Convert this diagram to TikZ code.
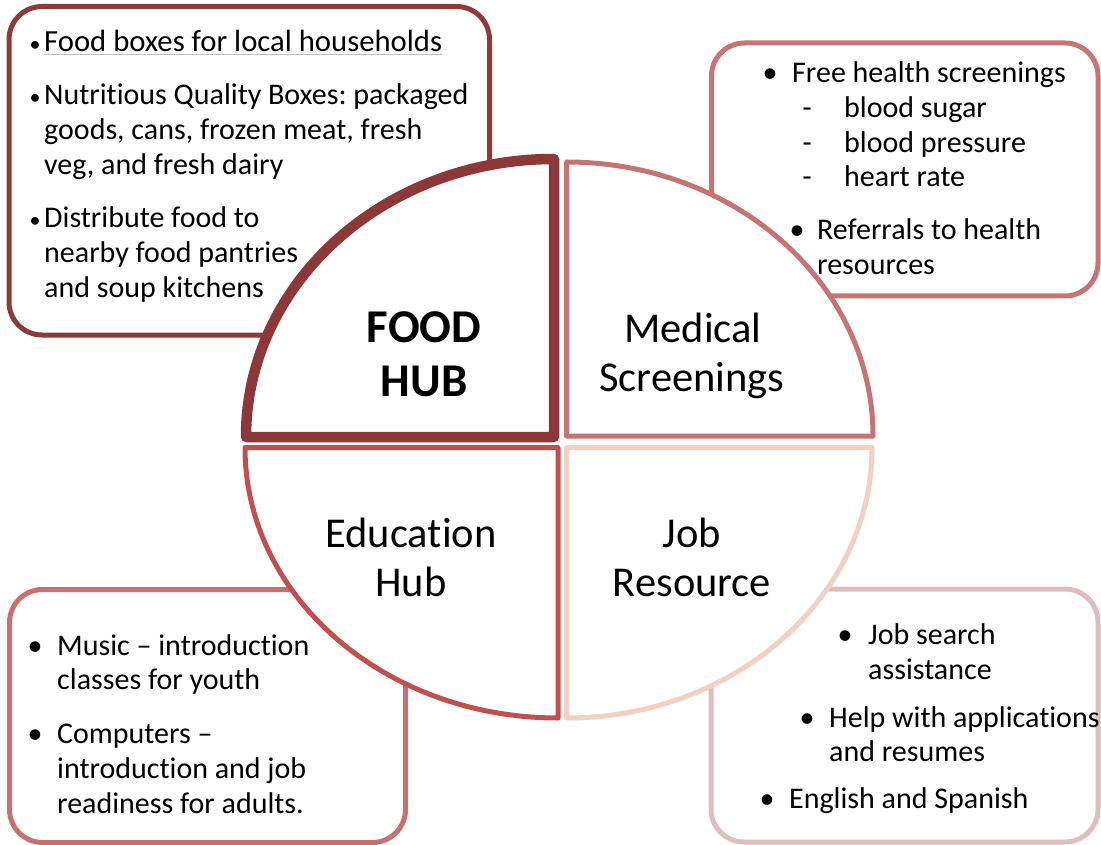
\documentclass[tikz,border=0pt]{standalone}
\usepackage{fontspec}
\setmainfont{Carlito}[Ligatures={NoCommon}]
\definecolor{foodc}{HTML}{8C3838}
\definecolor{medc}{HTML}{C67473}
\definecolor{educ}{HTML}{C0504D}
\definecolor{jobc}{HTML}{F2D0C4}
\definecolor{boxtl}{HTML}{8C3A3A}
\definecolor{boxtr}{HTML}{C87472}
\definecolor{boxbl}{HTML}{C87070}
\definecolor{boxbr}{HTML}{DFBDBB}
\newcommand\bodyfont{\fontsize{30}{35}\selectfont\frenchspacing}
\newcommand\labfont{\fontsize{42.5}{50}\selectfont}
\newcommand\foodfont{\fontsize{47}{54}\selectfont\bfseries}
\newcommand\bul[1]{\llap{\makebox[#1]{•}}}
\newcommand\sbul{\llap{\makebox[18pt]{\fontsize{22}{22}\selectfont•}}}
\newcommand\dsh{\llap{\makebox[74pt]{-}}}
\begin{document}
\begin{tikzpicture}[x=1pt,y=1pt,
  boxline/.style={line width=5pt, fill=white, rounded corners=33pt},
  quad/.style={line width=5pt, fill=white, line join=round},
  txt/.style={anchor=base west, inner sep=0pt, font=\bodyfont},
  lab/.style={anchor=base, inner sep=0pt, font=\labfont}]
\useasboundingbox (0,0) rectangle (1101,-845);
% boxes
\draw[boxline, draw=boxtl] (9,-6.5) rectangle (489.5,-335);
\draw[boxline, draw=boxtr] (711.5,-43) rectangle (1098,-296);
\draw[boxline, draw=boxbl] (9.5,-589.5) rectangle (405.5,-842.5);
\draw[boxline, draw=boxbr] (711,-589) rectangle (1098,-842);
% quadrants
\draw[quad, draw=medc] (566.5,-436) -- (566.5,-162) arc[start angle=90, end angle=0, x radius=306.5, y radius=274] -- cycle;
\draw[quad, draw=educ] (558,-447.5) -- (245,-447.5) arc[start angle=180, end angle=270, x radius=313, y radius=270.5] -- cycle;
\draw[quad, draw=jobc] (566.5,-447.5) -- (872,-447.5) arc[start angle=0, end angle=-90, x radius=305.5, y radius=270.5] -- cycle;
\draw[quad, draw=foodc, line width=10.5pt] (554,-437) -- (246,-437) arc[start angle=180, end angle=90, x radius=308, y radius=278] -- cycle;
% quadrant labels
\node[lab, font=\foodfont] (food1) at (424,-342) {FOOD};
\node[lab, font=\foodfont] (food2) at (424,-396) {HUB};
\node[lab] (med1) at (693,-342) {Medical};
\node[lab] (med2) at (692,-391) {Screenings};
\node[lab] (edu1) at (411,-547) {Education};
\node[lab] (edu2) at (411,-596) {Hub};
\node[lab] (job1) at (692,-547) {Job};
\node[lab] (job2) at (692,-596) {Resource};
% top-left text
\node[txt, font=\fontsize{30.7}{35}\selectfont] (t1) at (44,-52) {\sbul Food boxes for local households};
\draw[black!25, line width=1pt] ([yshift=-2.5pt]t1.base west) -- ([yshift=-2.5pt]t1.base east);
\node[txt] (t2) at (44,-105) {\sbul Nutritious Quality Boxes: packaged};
\node[txt] (t3) at (44,-140) {goods, cans, frozen meat, fresh};
\node[txt] (t4) at (44,-175) {veg, and fresh dairy};
\node[txt] (t5) at (44,-228) {\sbul Distribute food to};
\node[txt] (t6) at (44,-263) {nearby food pantries};
\node[txt] (t7) at (44,-298) {and soup kitchens};
% top-right text
\node[txt] (r1) at (792,-83) {\bul{44pt}Free health screenings};
\node[txt] (r2) at (844,-118) {\dsh blood sugar};
\node[txt] (r3) at (844,-153) {\dsh blood pressure};
\node[txt] (r4) at (844,-187) {\dsh heart rate};
\node[txt] (r5) at (817,-240) {\bul{40pt}Referrals to health};
\node[txt] (r6) at (817,-275) {resources};
% bottom-left text
\node[txt] (l1) at (57,-655) {\bul{44pt}Music – introduction};
\node[txt] (l2) at (57,-689) {classes for youth};
\node[txt] (l3) at (57,-743) {\bul{44pt}Computers –};
\node[txt] (l4) at (57,-778) {introduction and job};
\node[txt] (l5) at (57,-813) {readiness for adults.};
% bottom-right text
\node[txt] (b1) at (868,-644) {\bul{46pt}Job search};
\node[txt] (b2) at (868,-679) {assistance};
\node[txt] (b3) at (829,-727) {\bul{44pt}Help with applications};
\node[txt] (b4) at (829,-761) {and resumes};
\node[txt] (b5) at (789,-808) {\bul{44pt}English and Spanish};
\end{tikzpicture}
\end{document}
